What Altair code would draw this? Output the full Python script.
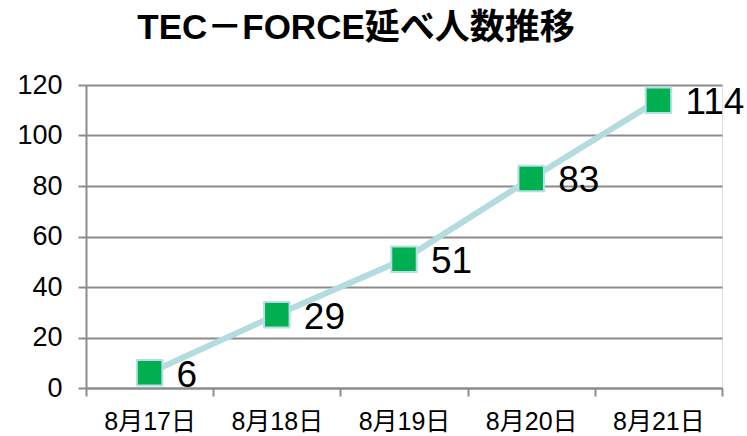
import altair as alt
import pandas as pd

dates = ["8月17日", "8月18日", "8月19日", "8月20日", "8月21日"]
values = [6, 29, 51, 83, 114]
y_ticks = [0, 20, 40, 60, 80, 100, 120]

df = pd.DataFrame({"date": dates, "value": values})

FONT = "Liberation Sans, Arial, Noto Sans CJK JP"

x = alt.X("date:N", sort=dates, title=None,
          scale=alt.Scale(paddingInner=0, paddingOuter=0),
          axis=alt.Axis(labelAngle=0, tickBand="extent", grid=False,
                        labelFontSize=25, labelFont=FONT, labelColor="#000000",
                        tickSize=8, tickColor="#8c8c8c", tickWidth=2,
                        domainColor="#8c8c8c", domainWidth=2, labelPadding=13))
y = alt.Y("value:Q", title=None,
          scale=alt.Scale(domain=[0, 120], nice=False, zero=True),
          axis=alt.Axis(values=y_ticks, labelFontSize=27, labelFont=FONT,
                        labelColor="#000000", tickSize=8, tickColor="#8c8c8c",
                        tickWidth=2, gridColor="#8c8c8c", gridWidth=2,
                        domainColor="#8c8c8c", domainWidth=2, labelPadding=16))

base = alt.Chart(df).encode(x=x, y=y)

line = base.mark_line(color="#b3dcdf", strokeWidth=6)
pts = base.mark_square(size=650, color="#00b050", opacity=1,
                       stroke="#b7dee8", strokeWidth=2)
txt = base.mark_text(align="left", baseline="middle", dx=27, dy=3,
                     fontSize=37, font=FONT, color="#000000").encode(text="value:Q")

chart = alt.layer(line, pts, txt).properties(
    width=636, height=303,
    title=alt.TitleParams("TEC－FORCE延べ人数推移", fontSize=35, font=FONT,
                          fontWeight="bold", color="#000000", anchor="middle",
                          dx=-48, offset=25),
    padding={"left": 86, "top": 85, "right": 25, "bottom": 48},
    autosize=alt.AutoSizeParams(type="none"),
).configure_view(stroke=None).configure(background="white")

chart.save("out.html", embed_options={"renderer": "svg", "actions": False})
